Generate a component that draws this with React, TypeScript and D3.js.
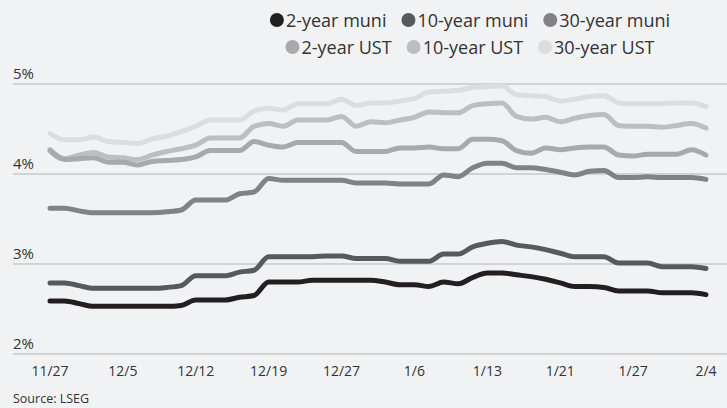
import React, { useEffect, useRef } from "react";
import * as d3 from "d3";

// x tick labels, one every 5 trading days
const tickLabels = ["11/27", "12/5", "12/12", "12/19", "12/27", "1/6", "1/13", "1/21", "1/27", "2/4"];
const yTicks = [2, 3, 4, 5];

const muni2 = [2.59, 2.59, 2.56, 2.53, 2.53, 2.53, 2.53, 2.53, 2.53, 2.54, 2.60, 2.60, 2.60, 2.63, 2.65, 2.80, 2.80, 2.80, 2.82, 2.82, 2.82, 2.82, 2.82, 2.80, 2.77, 2.77, 2.75, 2.80, 2.78, 2.85, 2.90, 2.90, 2.88, 2.86, 2.83, 2.79, 2.75, 2.75, 2.74, 2.70, 2.70, 2.70, 2.68, 2.68, 2.68, 2.66];
const muni10 = [2.79, 2.79, 2.76, 2.73, 2.73, 2.73, 2.73, 2.73, 2.74, 2.76, 2.87, 2.87, 2.87, 2.91, 2.93, 3.08, 3.08, 3.08, 3.08, 3.09, 3.09, 3.06, 3.06, 3.06, 3.03, 3.03, 3.03, 3.11, 3.11, 3.19, 3.23, 3.25, 3.21, 3.19, 3.16, 3.12, 3.08, 3.08, 3.08, 3.01, 3.01, 3.01, 2.97, 2.97, 2.97, 2.95];
const muni30 = [3.62, 3.62, 3.59, 3.57, 3.57, 3.57, 3.57, 3.57, 3.58, 3.60, 3.71, 3.71, 3.71, 3.78, 3.80, 3.95, 3.93, 3.93, 3.93, 3.93, 3.93, 3.90, 3.90, 3.90, 3.89, 3.89, 3.89, 3.99, 3.97, 4.07, 4.12, 4.12, 4.07, 4.07, 4.05, 4.02, 3.99, 4.03, 4.04, 3.96, 3.96, 3.97, 3.96, 3.96, 3.96, 3.94];
const ust2 = [4.26, 4.16, 4.17, 4.18, 4.13, 4.13, 4.10, 4.14, 4.15, 4.16, 4.19, 4.26, 4.26, 4.26, 4.36, 4.32, 4.30, 4.35, 4.35, 4.35, 4.35, 4.25, 4.25, 4.25, 4.29, 4.29, 4.30, 4.28, 4.28, 4.385, 4.385, 4.37, 4.26, 4.23, 4.29, 4.27, 4.29, 4.30, 4.30, 4.21, 4.20, 4.22, 4.22, 4.22, 4.27, 4.21];
const ust10 = [4.27, 4.17, 4.21, 4.24, 4.19, 4.18, 4.16, 4.21, 4.25, 4.28, 4.32, 4.40, 4.40, 4.40, 4.53, 4.56, 4.53, 4.60, 4.60, 4.60, 4.64, 4.53, 4.58, 4.57, 4.60, 4.63, 4.69, 4.68, 4.68, 4.76, 4.78, 4.79, 4.64, 4.61, 4.63, 4.58, 4.62, 4.65, 4.66, 4.54, 4.53, 4.53, 4.52, 4.54, 4.56, 4.51];
const ust30 = [4.45, 4.38, 4.38, 4.41, 4.36, 4.35, 4.34, 4.39, 4.42, 4.47, 4.53, 4.60, 4.60, 4.60, 4.70, 4.73, 4.71, 4.78, 4.78, 4.78, 4.83, 4.76, 4.79, 4.79, 4.81, 4.84, 4.91, 4.92, 4.93, 4.96, 4.97, 4.98, 4.88, 4.87, 4.86, 4.81, 4.83, 4.86, 4.87, 4.79, 4.78, 4.78, 4.78, 4.79, 4.79, 4.75];

const seriesNames = ["2-year muni", "10-year muni", "30-year muni", "2-year UST", "10-year UST", "30-year UST"];
const seriesValues = [muni2, muni10, muni30, ust2, ust10, ust30];
const seriesColors = ["#231f20", "#58595b", "#808285", "#a7a9ac", "#bcbec0", "#dcdddf"];

const width = 727,
    height = 408,
    margin = { top: 84, right: 21, bottom: 54, left: 50 };

const font = "'Open Sans', sans-serif";
const textColor = "#333333";

export default function App() {
    const svgRef = useRef<SVGSVGElement>(null);

    useEffect(() => {
        const svg = d3.select(svgRef.current);
        svg.selectAll("*").remove();

        svg.append("rect")
            .attr("width", width)
            .attr("height", height)
            .attr("fill", "#f1f2f4");

        const n = muni2.length;
        const x = d3.scaleLinear()
            .domain([0, n - 1])
            .range([margin.left, width - margin.right]);

        const y = d3.scaleLinear()
            .domain([2, 5])
            .range([height - margin.bottom, margin.top]);

        // grid + y labels
        const grid = svg.append("g");
        grid.selectAll("line")
            .data(yTicks)
            .enter().append("line")
            .attr("x1", 13)
            .attr("x2", width)
            .attr("y1", d => y(d))
            .attr("y2", d => y(d))
            .attr("stroke", "#c6c7c9")
            .attr("stroke-width", 1.5);

        grid.selectAll("text")
            .data(yTicks)
            .enter().append("text")
            .attr("x", 13)
            .attr("y", d => y(d) - 5)
            .attr("font-family", font)
            .attr("font-size", 15)
            .attr("fill", textColor)
            .text(d => d + "%");

        // x labels
        svg.append("g")
            .selectAll("text")
            .data(tickLabels)
            .enter().append("text")
            .attr("x", (d, i) => x(i * 5))
            .attr("y", 376)
            .attr("text-anchor", "middle")
            .attr("font-family", font)
            .attr("font-size", 14)
            .attr("fill", textColor)
            .text(d => d);

        const line = d3.line<number>()
            .x((d, i) => x(i))
            .y(d => y(d))
            .curve(d3.curveMonotoneX);

        // lightest drawn first so the munis sit on top
        const order = d3.range(seriesValues.length).reverse();
        svg.append("g")
            .selectAll("path")
            .data(order)
            .enter().append("path")
            .attr("d", i => line(seriesValues[i]))
            .attr("fill", "none")
            .attr("stroke", i => seriesColors[i])
            .attr("stroke-width", 5)
            .attr("stroke-linecap", "round")
            .attr("stroke-linejoin", "round");

        // legend: two centered rows
        const rows = [[0, 1, 2], [3, 4, 5]];
        const rowY = [20, 47];
        const legendCenter = 470;
        const r = 7, textGap = 9, itemGap = 15;

        rows.forEach((row, ri) => {
            const g = svg.append("g");
            const items = row.map(si => {
                const item = g.append("g");
                item.append("circle")
                    .attr("r", r)
                    .attr("cy", rowY[ri])
                    .attr("fill", seriesColors[si]);
                const t = item.append("text")
                    .attr("y", rowY[ri] + 6.5)
                    .attr("font-family", font)
                    .attr("font-size", 18)
                    .attr("fill", textColor)
                    .text(seriesNames[si]);
                const w = (t.node() as SVGTextElement).getComputedTextLength();
                return { item, w: r + textGap + w };
            });
            const total = d3.sum(items, d => d.w) + itemGap * (items.length - 1);
            let cursor = legendCenter - total / 2 + r;
            items.forEach(({ item, w }) => {
                item.select("circle").attr("cx", cursor);
                item.select("text").attr("x", cursor + textGap);
                cursor += w + itemGap;
            });
        });

        svg.append("text")
            .attr("x", 13)
            .attr("y", 403)
            .attr("font-family", font)
            .attr("font-size", 12.5)
            .attr("fill", textColor)
            .text("Source: LSEG");
    }, []);

    return (
        <svg
            ref={svgRef}
            width={width}
            height={height}
            style={{ position: "absolute", left: 0, top: 0 }}
        />
    );
}
